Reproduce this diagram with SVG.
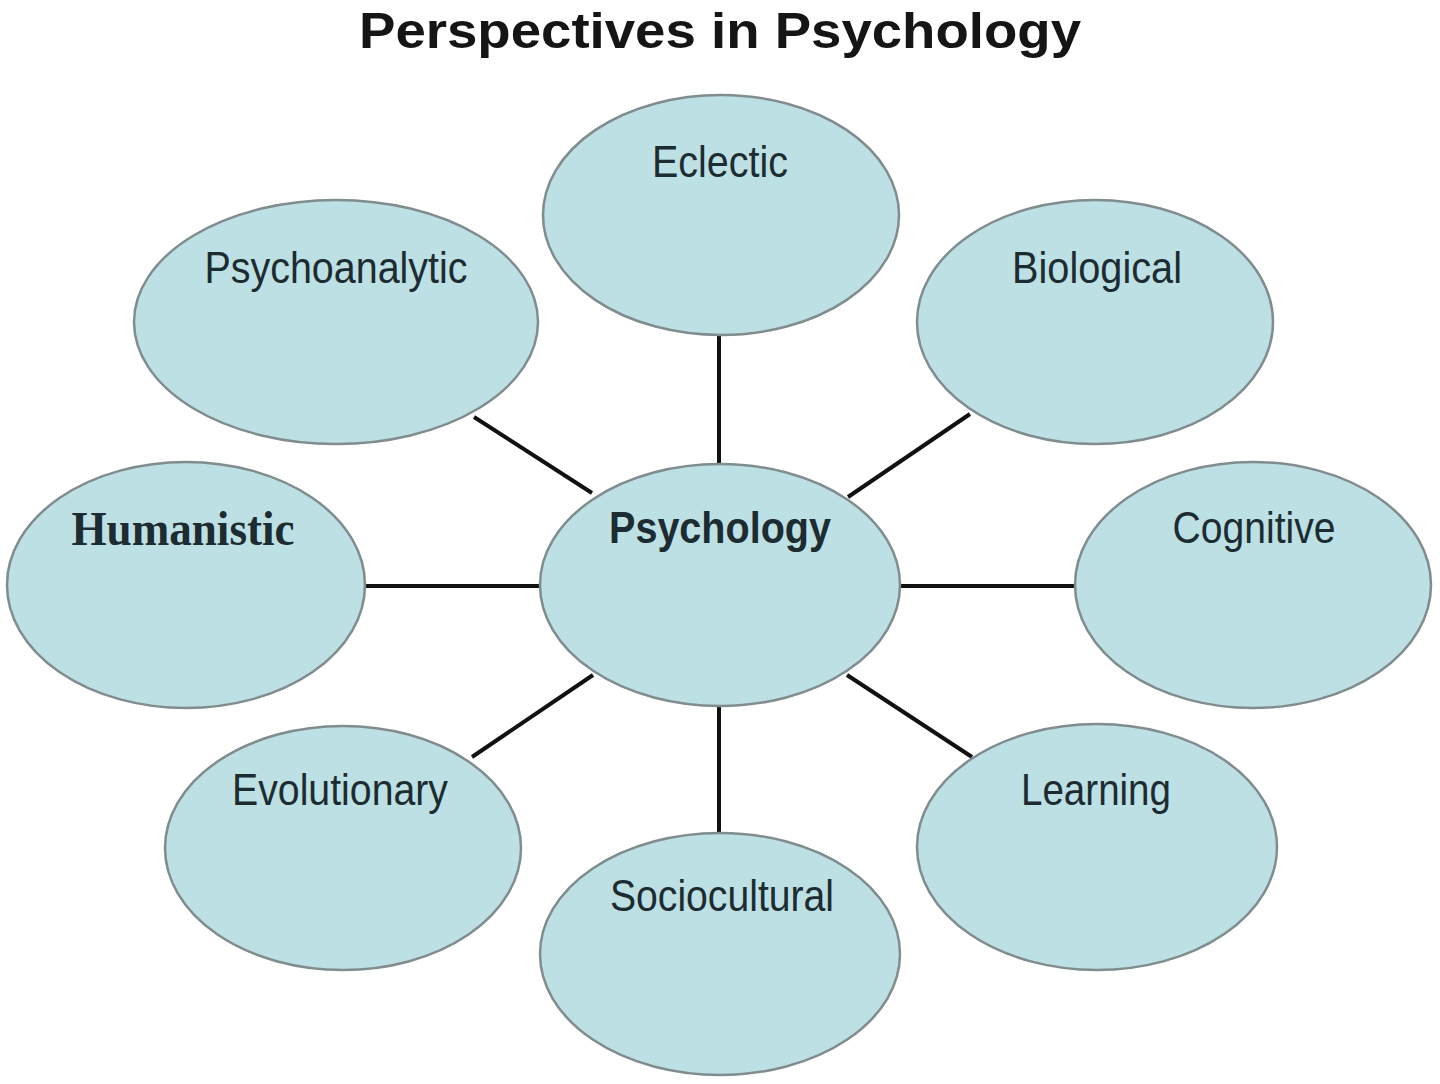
<svg xmlns="http://www.w3.org/2000/svg" width="1440" height="1084" viewBox="0 0 1440 1084">
<style>
.node ellipse{fill:#bde0e5;stroke:#808c8e;stroke-width:2.5}
.lbl{font-family:"Liberation Sans",Arial,sans-serif;font-size:44px;fill:#1c2c30}
.serif{font-family:"Liberation Serif","Times New Roman",serif;font-size:48px;font-weight:bold;fill:#1c2c30}
.bold{font-weight:bold}
.conn line{stroke:#111;stroke-width:4;stroke-linecap:butt}
</style>
<rect width="1440" height="1084" fill="#ffffff"/>
<text x="720" y="48" text-anchor="middle" font-family="'Liberation Sans',Arial,sans-serif" font-size="50" font-weight="bold" fill="#151515" textLength="722" lengthAdjust="spacingAndGlyphs">Perspectives in Psychology</text>
<g id="connectors" class="conn">
<line x1="719" y1="334" x2="719" y2="466"/>
<line x1="474" y1="417" x2="592" y2="493"/>
<line x1="970" y1="414" x2="848" y2="497"/>
<line x1="364" y1="586" x2="541" y2="586"/>
<line x1="899" y1="586" x2="1076" y2="586"/>
<line x1="472" y1="757" x2="593" y2="675"/>
<line x1="719" y1="704" x2="719" y2="834"/>
<line x1="847" y1="675" x2="972" y2="757"/>
</g>
<g id="eclectic" class="node">
<ellipse cx="721" cy="215" rx="178" ry="120"/>
<text class="lbl" x="720" y="177" text-anchor="middle" textLength="136" lengthAdjust="spacingAndGlyphs">Eclectic</text>
</g>
<g id="psychoanalytic" class="node">
<ellipse cx="336" cy="322" rx="202" ry="122"/>
<text class="lbl" x="336" y="283" text-anchor="middle" textLength="263" lengthAdjust="spacingAndGlyphs">Psychoanalytic</text>
</g>
<g id="biological" class="node">
<ellipse cx="1095" cy="322" rx="178" ry="122"/>
<text class="lbl" x="1097" y="283" text-anchor="middle" textLength="170" lengthAdjust="spacingAndGlyphs">Biological</text>
</g>
<g id="humanistic" class="node">
<ellipse cx="186" cy="585" rx="179" ry="123"/>
<text class="serif" x="183" y="545" text-anchor="middle" textLength="223" lengthAdjust="spacingAndGlyphs">Humanistic</text>
</g>
<g id="psychology" class="node">
<ellipse cx="720" cy="585" rx="180" ry="121"/>
<text class="lbl bold" x="720" y="543" text-anchor="middle" textLength="222" lengthAdjust="spacingAndGlyphs">Psychology</text>
</g>
<g id="cognitive" class="node">
<ellipse cx="1253" cy="585" rx="178" ry="123"/>
<text class="lbl" x="1254" y="543" text-anchor="middle" textLength="163" lengthAdjust="spacingAndGlyphs">Cognitive</text>
</g>
<g id="evolutionary" class="node">
<ellipse cx="343" cy="848" rx="178" ry="122"/>
<text class="lbl" x="340" y="805" text-anchor="middle" textLength="216" lengthAdjust="spacingAndGlyphs">Evolutionary</text>
</g>
<g id="sociocultural" class="node">
<ellipse cx="720" cy="954" rx="180" ry="121"/>
<text class="lbl" x="722" y="911" text-anchor="middle" textLength="224" lengthAdjust="spacingAndGlyphs">Sociocultural</text>
</g>
<g id="learning" class="node">
<ellipse cx="1097" cy="847" rx="180" ry="123"/>
<text class="lbl" x="1096" y="805" text-anchor="middle" textLength="150" lengthAdjust="spacingAndGlyphs">Learning</text>
</g>
</svg>
